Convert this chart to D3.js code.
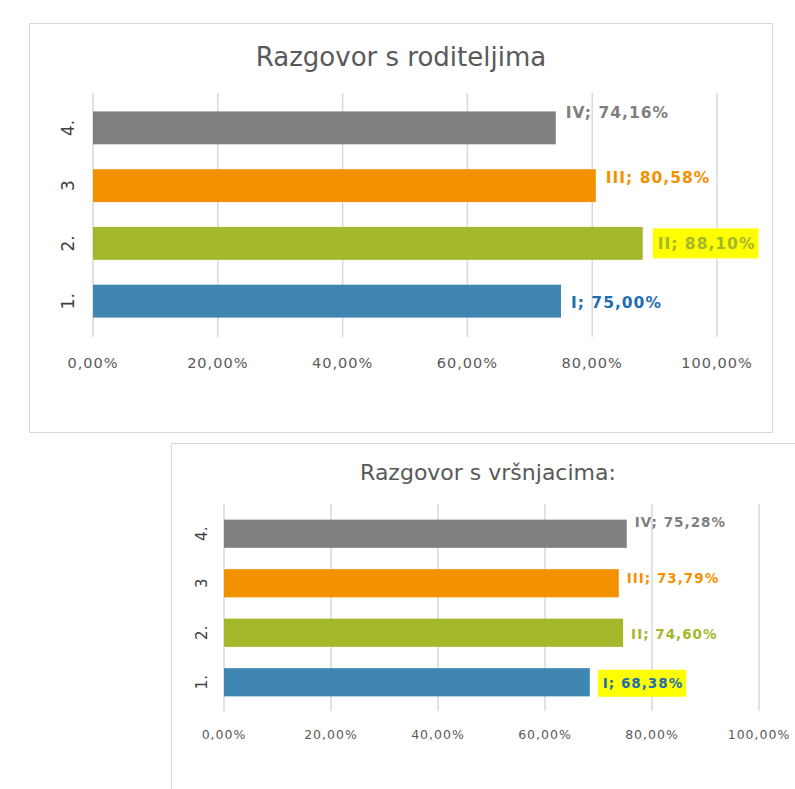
<!DOCTYPE html>
<html>
<head>
<meta charset="utf-8">
<script src="https://cdn.jsdelivr.net/npm/d3@7"></script>
<style>
  body { margin: 0; background: #fff; }
  svg { display: block; }
</style>
</head>
<body>
<div id="main"></div>
<script>
// data
const categories = ["1.", "2.", "3", "4."];
const seriesNames = ["I", "II", "III", "IV"];
const parentsValues = [75.00, 88.10, 80.58, 74.16];
const peersValues = [68.38, 74.60, 73.79, 75.28];
const xTicks = [0, 20, 40, 60, 80, 100];

const barColors = ["#3f87b2", "#a5b72a", "#f39200", "#808080"];
const labelColors = ["#1f6fb0", "#a5b72a", "#f39200", "#7f7f7f"];

const fmt = (v) => v.toFixed(2).replace(".", ",") + "%";

const svg = d3.select("#main")
  .append("svg")
  .attr("width", 795)
  .attr("height", 789);

// chart frames
svg.append("rect")
  .attr("x", 29.5).attr("y", 23.5)
  .attr("width", 743).attr("height", 409)
  .attr("fill", "#fff").attr("stroke", "#d9d9d9");

svg.append("rect")
  .attr("x", 171.5).attr("y", 443.5)
  .attr("width", 640).attr("height", 360)
  .attr("fill", "#fff").attr("stroke", "#d9d9d9");

function drawChart(cfg) {
  const g = svg.append("g");

  const x = d3.scaleLinear().domain([0, 100]).range([cfg.x0, cfg.x1]);
  const y = d3.scaleBand().domain(categories.slice().reverse())
    .range([cfg.yTop, cfg.yBottom]).paddingInner(cfg.pad).paddingOuter(cfg.pad / 2);

  g.append("text")
    .attr("x", cfg.titleX).attr("y", cfg.titleY)
    .attr("text-anchor", "middle")
    .attr("font-family", "DejaVu Sans")
    .attr("font-size", cfg.titleSize)
    .attr("fill", "#595959")
    .text(cfg.title);

  // gridlines
  g.selectAll(".grid")
    .data(xTicks)
    .enter().append("line")
    .attr("x1", (d) => x(d)).attr("x2", (d) => x(d))
    .attr("y1", cfg.gridTop).attr("y2", cfg.gridBottom)
    .attr("stroke", "#d9d9d9").attr("stroke-width", 1.5);

  // x tick labels
  g.selectAll(".tick")
    .data(xTicks)
    .enter().append("text")
    .attr("x", (d) => x(d))
    .attr("y", cfg.tickY)
    .attr("text-anchor", "middle")
    .attr("font-family", "DejaVu Sans")
    .attr("font-size", cfg.tickSize)
    .attr("letter-spacing", "1px")
    .attr("fill", "#595959")
    .text((d) => d.toFixed(2).replace(".", ",") + "%");

  // y labels rotated
  g.selectAll(".cat")
    .data(categories)
    .enter().append("text")
    .attr("transform", (d) => `translate(${cfg.catX},${y(d) + y.bandwidth() / 2}) rotate(-90)`)
    .attr("text-anchor", "middle")
    .attr("dy", "0.35em")
    .attr("font-family", "DejaVu Sans")
    .attr("font-size", cfg.catSize)
    .attr("fill", "#404040")
    .text((d) => d);

  // bars
  g.selectAll(".bar")
    .data(cfg.values)
    .enter().append("rect")
    .attr("x", x(0))
    .attr("y", (d, i) => y(categories[i]))
    .attr("width", (d) => x(d) - x(0))
    .attr("height", y.bandwidth())
    .attr("fill", (d, i) => barColors[i]);

  // data labels
  const labels = g.selectAll(".lbl")
    .data(cfg.values)
    .enter().append("g")
    .attr("transform", (d, i) =>
      `translate(${x(d) + cfg.labelGap},${y(categories[i]) + y.bandwidth() / 2 + cfg.nudge[i]})`);

  labels.each(function (d, i) {
    const lg = d3.select(this);
    const t = lg.append("text")
      .attr("x", i === cfg.highlight ? 5 : 0)
      .attr("dy", "0.36em")
      .attr("font-family", "DejaVu Sans")
      .attr("font-weight", "bold")
      .attr("font-size", cfg.labelSize)
      .attr("letter-spacing", "1px")
      .attr("fill", labelColors[i])
      .text(`${seriesNames[i]}; ${fmt(d)}`);
    if (i === cfg.highlight) {
      const bb = t.node().getBBox();
      lg.insert("rect", "text")
        .attr("x", 0).attr("y", -cfg.boxH / 2)
        .attr("width", bb.width + 8).attr("height", cfg.boxH)
        .attr("fill", "#ffff00");
    }
  });
}

drawChart({
  title: "Razgovor s roditeljima",
  titleX: 401, titleY: 66, titleSize: 26,
  values: parentsValues,
  x0: 93, x1: 717,
  yTop: 99, yBottom: 330, pad: 0.43,
  gridTop: 93, gridBottom: 337,
  tickY: 368, tickSize: 14.5,
  catX: 68, catSize: 17,
  labelGap: 10, labelSize: 15.5,
  nudge: [1, 0, -8, -15],
  highlight: 1, boxH: 30
});

drawChart({
  title: "Razgovor s vršnjacima:",
  titleX: 488, titleY: 480, titleSize: 22,
  values: peersValues,
  x0: 224, x1: 759,
  yTop: 509, yBottom: 707, pad: 0.43,
  gridTop: 504, gridBottom: 711,
  tickY: 739, tickSize: 12.5,
  catX: 202, catSize: 15,
  labelGap: 8, labelSize: 13.5,
  nudge: [1, 1, -5, -12],
  highlight: 0, boxH: 27
});
</script>
</body>
</html>
